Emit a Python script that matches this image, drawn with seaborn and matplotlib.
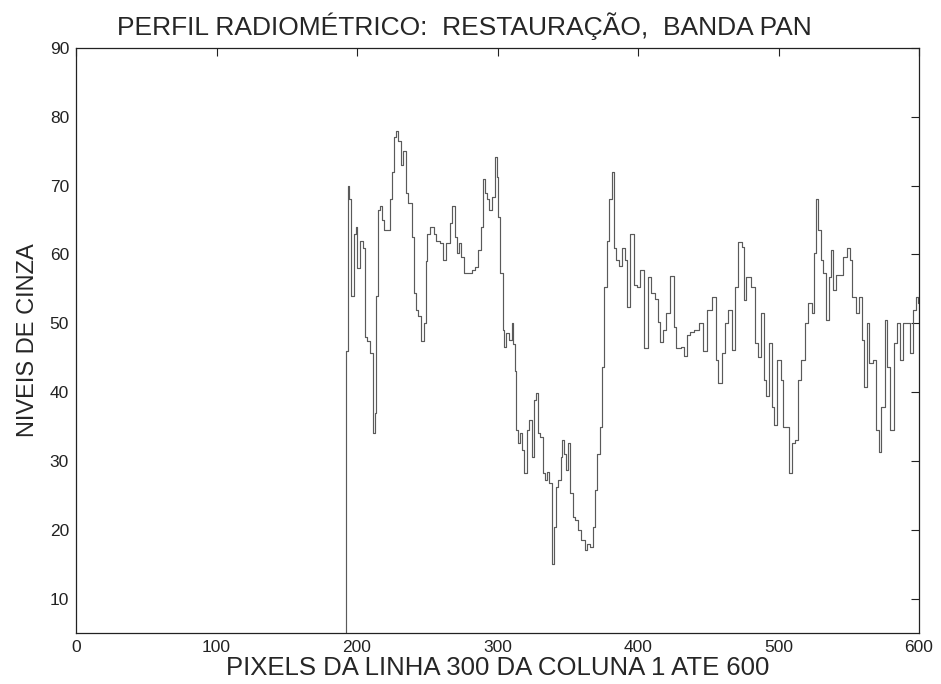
import matplotlib
matplotlib.use("Agg")
import matplotlib.pyplot as plt
import seaborn as sns
import pandas as pd

# --- perfil radiometrico, linha 300 ---
pixel = [
    1, 192, 193, 194, 195, 197, 199, 199.5, 201, 203.5,
    205, 206.4, 208, 210.7, 211.4, 212, 213.5, 214.2, 215.6, 217,
    218.5, 220.6, 222.8, 224.2, 225.6, 227, 228.5, 230, 232, 233.5,
    235.6, 237.7, 240, 241.3, 242.7, 244.8, 247, 248.4, 249.8, 250.5,
    253.4, 255.5, 257.6, 260.5, 262.6, 264.8, 266.9, 268.3, 270.5, 272,
    273.3, 274.7, 277, 280.4, 282.6, 285.4, 287.5, 289, 289.7, 291.8,
    293.2, 295.4, 296.8, 299, 300.4, 301, 303.2, 304, 305.3, 307.5,
    309, 311, 311.7, 313, 314, 315.3, 316.7, 318, 320.3, 321.7,
    323.8, 325.3, 326.7, 328, 329.5, 331.7, 333, 334.5, 336, 338,
    339.5, 341, 342.3, 343.8, 345.9, 346.6, 348, 349.5, 350.9, 353,
    354.4, 356.6, 358, 360.9, 363, 364.4, 367.3, 368.7, 370, 371.5,
    373.7, 375, 377.2, 378.6, 380.8, 382, 383.6, 385, 387.5, 389.3,
    391.5, 392.5, 395.7, 397.9, 400, 402.8, 405.7, 408.5, 410.7, 413,
    415, 417, 419, 421.3, 424.5, 426.3, 428.5, 432, 433.5, 435.6,
    438.4, 442, 445.5, 447.7, 451, 454.5, 456, 458.4, 460.5, 463,
    465.5, 467.6, 469.8, 472.8, 474.7, 475.6, 477.6, 479.5, 481.8, 484.7,
    486, 489, 490.4, 491.8, 494.7, 496, 497.5, 501, 502.5, 504.6,
    506.7, 508.9, 510.3, 513, 515.3, 517.4, 520, 522.4, 524.6, 526,
    527.4, 529.5, 531, 533, 535, 536.7, 538, 540, 542.3, 545,
    547.3, 549.5, 551.6, 553.7, 556.6, 558.7, 560, 561.6, 563.7, 565.8,
    568.7, 570.8, 572.2, 574.4, 576.5, 578.6, 580.8, 583, 585, 588,
    589.3, 592, 595, 597, 599, 600,
]
nivel = [
    0, 0, 46, 70, 68, 54, 63, 64, 58, 62,
    61, 48, 47.5, 45.7, 37.4, 34, 37, 54, 66.5, 67,
    65, 63.5, 63.5, 68, 72, 77, 78, 76.5, 73, 75,
    69, 67.5, 62.5, 54.4, 52, 51, 47.5, 50, 59, 63,
    64, 63, 62, 61.7, 59.2, 61.7, 64.6, 67, 62.5, 60.2,
    61.7, 59.6, 57.3, 57.3, 57.7, 58.2, 60.6, 64, 71, 69,
    68, 66.5, 68.3, 74.2, 71.3, 65.4, 57.3, 49, 46.5, 48.6,
    47.6, 50, 47, 43, 34.5, 32.6, 34, 31.6, 28.2, 34.5,
    35.9, 30.6, 38.8, 39.8, 34, 33.5, 28.2, 27.2, 28.4, 26.8,
    15, 20.4, 26.2, 27.2, 30.6, 33, 31, 28.7, 32.6, 25.3,
    21.8, 21.4, 20, 18.5, 17, 18, 17.5, 20.4, 25.8, 31,
    35, 43.6, 55.3, 62, 68, 72, 61, 59.2, 58.3, 61,
    59.2, 52.4, 63, 55.6, 55.3, 57.7, 46.4, 56.7, 54.4, 53.6,
    50.2, 47.3, 49, 51.5, 56.8, 49.4, 46.4, 46.5, 45.2, 48.3,
    48.7, 49, 50, 46, 51.9, 53.8, 44.7, 41.3, 45.7, 50,
    51.9, 46.1, 55.3, 61.8, 61.1, 53.4, 56.7, 56.7, 55.3, 47.1,
    45.1, 51.5, 41.7, 39.5, 47.1, 37.8, 35.2, 44.7, 41.7, 35,
    35, 28.2, 32.6, 33, 41.7, 44.7, 50, 52.9, 51.5, 60.2,
    68, 63.5, 59.2, 57.3, 50.5, 56.7, 60.6, 54.8, 57, 57,
    59.6, 61, 59.2, 53.8, 51.5, 53.8, 47.6, 40.7, 50, 44.2,
    44.7, 34.5, 31.3, 37.8, 50.5, 43.6, 34.5, 47.1, 50, 44.7,
    50, 50, 45.7, 51.9, 53.8, 53,
]

x_ticks = [0, 100, 200, 300, 400, 500, 600]
y_ticks = [10, 20, 30, 40, 50, 60, 70, 80, 90]

df = pd.DataFrame({"pixel": pixel, "nivel": nivel})

sns.set_style("white")
plt.rcParams["font.family"] = ["Liberation Sans", "DejaVu Sans"]

fig = plt.figure(figsize=(9.41, 6.84), dpi=100)
ax = fig.add_axes([76 / 941, 51 / 684, 843 / 941, 585 / 684])

sns.lineplot(data=df, x="pixel", y="nivel", ax=ax, color="#5a5a5a",
             linewidth=0.85, estimator=None, sort=False, drawstyle="steps-mid")

ax.set_xlim(0, 600)
ax.set_ylim(5, 90)
ax.set_xticks(x_ticks)
ax.set_yticks(y_ticks)
ax.tick_params(direction="in", length=6, width=0.8, top=True, right=True,
               labelsize=12.5, colors="#222222", pad=5)
for s in ax.spines.values():
    s.set_color("#222222")
    s.set_linewidth(0.9)

ax.set_xlabel("PIXELS DA LINHA 300 DA COLUNA 1 ATE 600", fontsize=18.5, labelpad=1)
ax.set_ylabel("NIVEIS DE CINZA", fontsize=17, labelpad=8)
fig.text(464 / 941, 1 - 26 / 684, "PERFIL RADIOMÉTRICO:  RESTAURAÇÃO,  BANDA PAN",
         ha="center", va="center", fontsize=19)

fig.savefig("out.png", dpi=100)
